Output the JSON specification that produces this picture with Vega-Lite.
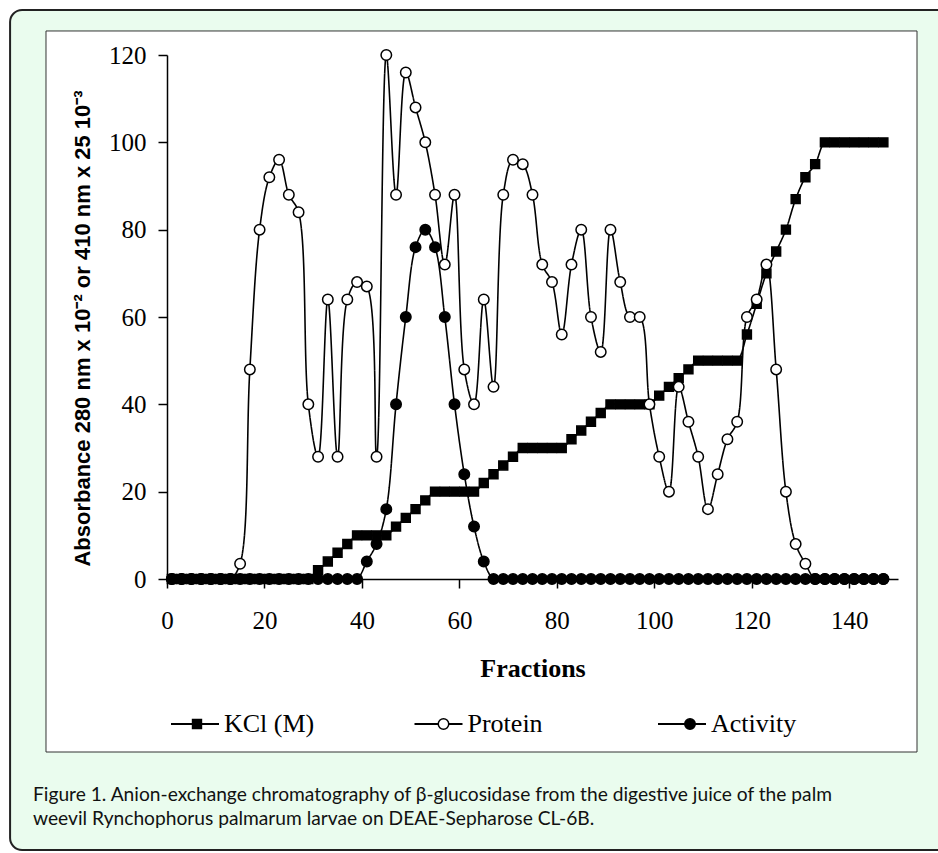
{
  "$schema": "https://vega.github.io/schema/vega-lite/v6.json",
  "width": 731,
  "height": 524,
  "autosize": {"type": "none"},
  "padding": {"left": 167, "top": 55, "right": 40, "bottom": 274},
  "background": "white",
  "title": {
    "text": ["Figure 1. Anion-exchange chromatography of β-glucosidase from the digestive juice of the palm", "weevil Rynchophorus palmarum larvae on DEAE-Sepharose CL-6B."],
    "orient": "bottom", "anchor": "start", "frame": "group", "dx": -134, "offset": -65,
    "font": "Lato", "fontSize": 19.2, "fontWeight": "normal", "color": "#111111", "lineHeight": 24, "baseline": "top"
  },
  "datasets": {
    "chroma": [
      {"series":"KCl (M)","fraction":1,"value":0},{"series":"KCl (M)","fraction":3,"value":0},{"series":"KCl (M)","fraction":5,"value":0},{"series":"KCl (M)","fraction":7,"value":0},{"series":"KCl (M)","fraction":9,"value":0},{"series":"KCl (M)","fraction":11,"value":0},{"series":"KCl (M)","fraction":13,"value":0},{"series":"KCl (M)","fraction":15,"value":0},{"series":"KCl (M)","fraction":17,"value":0},{"series":"KCl (M)","fraction":19,"value":0},{"series":"KCl (M)","fraction":21,"value":0},{"series":"KCl (M)","fraction":23,"value":0},{"series":"KCl (M)","fraction":25,"value":0},{"series":"KCl (M)","fraction":27,"value":0},{"series":"KCl (M)","fraction":29,"value":0},
      {"series":"KCl (M)","fraction":31,"value":2},{"series":"KCl (M)","fraction":33,"value":4},{"series":"KCl (M)","fraction":35,"value":6},{"series":"KCl (M)","fraction":37,"value":8},{"series":"KCl (M)","fraction":39,"value":10},{"series":"KCl (M)","fraction":41,"value":10},{"series":"KCl (M)","fraction":43,"value":10},{"series":"KCl (M)","fraction":45,"value":10},{"series":"KCl (M)","fraction":47,"value":12},{"series":"KCl (M)","fraction":49,"value":14},{"series":"KCl (M)","fraction":51,"value":16},{"series":"KCl (M)","fraction":53,"value":18},{"series":"KCl (M)","fraction":55,"value":20},{"series":"KCl (M)","fraction":57,"value":20},{"series":"KCl (M)","fraction":59,"value":20},{"series":"KCl (M)","fraction":61,"value":20},{"series":"KCl (M)","fraction":63,"value":20},{"series":"KCl (M)","fraction":65,"value":22},{"series":"KCl (M)","fraction":67,"value":24},{"series":"KCl (M)","fraction":69,"value":26},{"series":"KCl (M)","fraction":71,"value":28},{"series":"KCl (M)","fraction":73,"value":30},{"series":"KCl (M)","fraction":75,"value":30},{"series":"KCl (M)","fraction":77,"value":30},{"series":"KCl (M)","fraction":79,"value":30},{"series":"KCl (M)","fraction":81,"value":30},{"series":"KCl (M)","fraction":83,"value":32},{"series":"KCl (M)","fraction":85,"value":34},{"series":"KCl (M)","fraction":87,"value":36},{"series":"KCl (M)","fraction":89,"value":38},{"series":"KCl (M)","fraction":91,"value":40},{"series":"KCl (M)","fraction":93,"value":40},{"series":"KCl (M)","fraction":95,"value":40},{"series":"KCl (M)","fraction":97,"value":40},{"series":"KCl (M)","fraction":99,"value":40},{"series":"KCl (M)","fraction":101,"value":42},{"series":"KCl (M)","fraction":103,"value":44},{"series":"KCl (M)","fraction":105,"value":46},{"series":"KCl (M)","fraction":107,"value":48},{"series":"KCl (M)","fraction":109,"value":50},{"series":"KCl (M)","fraction":111,"value":50},{"series":"KCl (M)","fraction":113,"value":50},{"series":"KCl (M)","fraction":115,"value":50},{"series":"KCl (M)","fraction":117,"value":50},{"series":"KCl (M)","fraction":119,"value":56},{"series":"KCl (M)","fraction":121,"value":63},{"series":"KCl (M)","fraction":123,"value":70},{"series":"KCl (M)","fraction":125,"value":75},{"series":"KCl (M)","fraction":127,"value":80},{"series":"KCl (M)","fraction":129,"value":87},{"series":"KCl (M)","fraction":131,"value":92},{"series":"KCl (M)","fraction":133,"value":95},{"series":"KCl (M)","fraction":135,"value":100},{"series":"KCl (M)","fraction":137,"value":100},{"series":"KCl (M)","fraction":139,"value":100},{"series":"KCl (M)","fraction":141,"value":100},{"series":"KCl (M)","fraction":143,"value":100},{"series":"KCl (M)","fraction":145,"value":100},{"series":"KCl (M)","fraction":147,"value":100},
      {"series":"Protein","fraction":1,"value":0},{"series":"Protein","fraction":3,"value":0},{"series":"Protein","fraction":5,"value":0},{"series":"Protein","fraction":7,"value":0},{"series":"Protein","fraction":9,"value":0},{"series":"Protein","fraction":11,"value":0},{"series":"Protein","fraction":13,"value":0},
      {"series":"Protein","fraction":15,"value":3.5},{"series":"Protein","fraction":17,"value":48},{"series":"Protein","fraction":19,"value":80},{"series":"Protein","fraction":21,"value":92},{"series":"Protein","fraction":23,"value":96},{"series":"Protein","fraction":25,"value":88},{"series":"Protein","fraction":27,"value":84},{"series":"Protein","fraction":29,"value":40},{"series":"Protein","fraction":31,"value":28},{"series":"Protein","fraction":33,"value":64},{"series":"Protein","fraction":35,"value":28},{"series":"Protein","fraction":37,"value":64},{"series":"Protein","fraction":39,"value":68},{"series":"Protein","fraction":41,"value":67},{"series":"Protein","fraction":43,"value":28},{"series":"Protein","fraction":45,"value":120},{"series":"Protein","fraction":47,"value":88},{"series":"Protein","fraction":49,"value":116},{"series":"Protein","fraction":51,"value":108},{"series":"Protein","fraction":53,"value":100},{"series":"Protein","fraction":55,"value":88},{"series":"Protein","fraction":57,"value":72},{"series":"Protein","fraction":59,"value":88},{"series":"Protein","fraction":61,"value":48},{"series":"Protein","fraction":63,"value":40},{"series":"Protein","fraction":65,"value":64},{"series":"Protein","fraction":67,"value":44},{"series":"Protein","fraction":69,"value":88},{"series":"Protein","fraction":71,"value":96},{"series":"Protein","fraction":73,"value":95},{"series":"Protein","fraction":75,"value":88},{"series":"Protein","fraction":77,"value":72},{"series":"Protein","fraction":79,"value":68},{"series":"Protein","fraction":81,"value":56},{"series":"Protein","fraction":83,"value":72},{"series":"Protein","fraction":85,"value":80},{"series":"Protein","fraction":87,"value":60},{"series":"Protein","fraction":89,"value":52},{"series":"Protein","fraction":91,"value":80},{"series":"Protein","fraction":93,"value":68},{"series":"Protein","fraction":95,"value":60},{"series":"Protein","fraction":97,"value":60},{"series":"Protein","fraction":99,"value":40},{"series":"Protein","fraction":101,"value":28},{"series":"Protein","fraction":103,"value":20},{"series":"Protein","fraction":105,"value":44},{"series":"Protein","fraction":107,"value":36},{"series":"Protein","fraction":109,"value":28},{"series":"Protein","fraction":111,"value":16},{"series":"Protein","fraction":113,"value":24},{"series":"Protein","fraction":115,"value":32},{"series":"Protein","fraction":117,"value":36},{"series":"Protein","fraction":119,"value":60},{"series":"Protein","fraction":121,"value":64},{"series":"Protein","fraction":123,"value":72},{"series":"Protein","fraction":125,"value":48},{"series":"Protein","fraction":127,"value":20},{"series":"Protein","fraction":129,"value":8},{"series":"Protein","fraction":131,"value":3.5},
      {"series":"Protein","fraction":133,"value":0},{"series":"Protein","fraction":135,"value":0},{"series":"Protein","fraction":137,"value":0},{"series":"Protein","fraction":139,"value":0},{"series":"Protein","fraction":141,"value":0},{"series":"Protein","fraction":143,"value":0},{"series":"Protein","fraction":145,"value":0},{"series":"Protein","fraction":147,"value":0},
      {"series":"Activity","fraction":1,"value":0},{"series":"Activity","fraction":3,"value":0},{"series":"Activity","fraction":5,"value":0},{"series":"Activity","fraction":7,"value":0},{"series":"Activity","fraction":9,"value":0},{"series":"Activity","fraction":11,"value":0},{"series":"Activity","fraction":13,"value":0},{"series":"Activity","fraction":15,"value":0},{"series":"Activity","fraction":17,"value":0},{"series":"Activity","fraction":19,"value":0},{"series":"Activity","fraction":21,"value":0},{"series":"Activity","fraction":23,"value":0},{"series":"Activity","fraction":25,"value":0},{"series":"Activity","fraction":27,"value":0},{"series":"Activity","fraction":29,"value":0},{"series":"Activity","fraction":31,"value":0},{"series":"Activity","fraction":33,"value":0},{"series":"Activity","fraction":35,"value":0},{"series":"Activity","fraction":37,"value":0},{"series":"Activity","fraction":39,"value":0},
      {"series":"Activity","fraction":41,"value":4},{"series":"Activity","fraction":43,"value":8},{"series":"Activity","fraction":45,"value":16},{"series":"Activity","fraction":47,"value":40},{"series":"Activity","fraction":49,"value":60},{"series":"Activity","fraction":51,"value":76},{"series":"Activity","fraction":53,"value":80},{"series":"Activity","fraction":55,"value":76},{"series":"Activity","fraction":57,"value":60},{"series":"Activity","fraction":59,"value":40},{"series":"Activity","fraction":61,"value":24},{"series":"Activity","fraction":63,"value":12},{"series":"Activity","fraction":65,"value":4},
      {"series":"Activity","fraction":67,"value":0},{"series":"Activity","fraction":69,"value":0},{"series":"Activity","fraction":71,"value":0},{"series":"Activity","fraction":73,"value":0},{"series":"Activity","fraction":75,"value":0},{"series":"Activity","fraction":77,"value":0},{"series":"Activity","fraction":79,"value":0},{"series":"Activity","fraction":81,"value":0},{"series":"Activity","fraction":83,"value":0},{"series":"Activity","fraction":85,"value":0},{"series":"Activity","fraction":87,"value":0},{"series":"Activity","fraction":89,"value":0},{"series":"Activity","fraction":91,"value":0},{"series":"Activity","fraction":93,"value":0},{"series":"Activity","fraction":95,"value":0},{"series":"Activity","fraction":97,"value":0},{"series":"Activity","fraction":99,"value":0},{"series":"Activity","fraction":101,"value":0},{"series":"Activity","fraction":103,"value":0},{"series":"Activity","fraction":105,"value":0},{"series":"Activity","fraction":107,"value":0},{"series":"Activity","fraction":109,"value":0},{"series":"Activity","fraction":111,"value":0},{"series":"Activity","fraction":113,"value":0},{"series":"Activity","fraction":115,"value":0},{"series":"Activity","fraction":117,"value":0},{"series":"Activity","fraction":119,"value":0},{"series":"Activity","fraction":121,"value":0},{"series":"Activity","fraction":123,"value":0},{"series":"Activity","fraction":125,"value":0},{"series":"Activity","fraction":127,"value":0},{"series":"Activity","fraction":129,"value":0},{"series":"Activity","fraction":131,"value":0},{"series":"Activity","fraction":133,"value":0},{"series":"Activity","fraction":135,"value":0},{"series":"Activity","fraction":137,"value":0},{"series":"Activity","fraction":139,"value":0},{"series":"Activity","fraction":141,"value":0},{"series":"Activity","fraction":143,"value":0},{"series":"Activity","fraction":145,"value":0},{"series":"Activity","fraction":147,"value":0}
    ]
  },
  "layer": [
    {
      "data": {"values": [{}]},
      "mark": {"type": "rect", "fill": "#eafcee", "stroke": "#222222", "strokeWidth": 2, "cornerRadius": 12},
      "encoding": {
        "x": {"datum": -32.2, "type": "quantitative", "scale": {"domain": [0, 150], "nice": false}},
        "x2": {"datum": 161},
        "y": {"datum": 130.3, "type": "quantitative", "scale": {"domain": [0, 120], "nice": false}},
        "y2": {"datum": -62.06}
      }
    },
    {
      "data": {"values": [{}]},
      "mark": {"type": "rect", "fill": "white", "stroke": "#333333", "strokeWidth": 1},
      "encoding": {
        "x": {"datum": -24.83, "type": "quantitative", "scale": {"domain": [0, 150], "nice": false}},
        "x2": {"datum": 153.9},
        "y": {"datum": 125.5, "type": "quantitative", "scale": {"domain": [0, 120], "nice": false}},
        "y2": {"datum": -39.62}
      }
    },
    {
      "data": {"name": "chroma"},
      "mark": {"type": "line", "interpolate": "catmull-rom", "color": "black", "strokeWidth": 1.6},
      "encoding": {
        "x": {"field": "fraction", "type": "quantitative", "scale": {"domain": [0, 150], "nice": false},
          "axis": {"title": "Fractions", "values": [0, 20, 40, 60, 80, 100, 120, 140], "grid": false, "labelPadding": 20, "titlePadding": 22, "zindex": 2,
            "titleFont": "Liberation Serif", "titleFontSize": 26, "titleFontWeight": "bold"}},
        "y": {"field": "value", "type": "quantitative", "scale": {"domain": [0, 120], "nice": false},
          "axis": {"title": "Absorbance 280 nm x 10⁻² or 410 nm x 25 10⁻³", "values": [0, 20, 40, 60, 80, 100, 120], "grid": false, "labelPadding": 12, "titlePadding": 14, "titleY": 273, "zindex": 2,
            "titleFont": "Liberation Sans", "titleFontSize": 22, "titleFontWeight": "bold"}},
        "detail": {"field": "series"},
        "strokeDash": {"field": "series", "type": "nominal", "sort": ["KCl (M)", "Protein", "Activity"], "scale": {"range": [[1, 0], [1, 0], [1, 0]]},
          "legend": {"title": null, "orient": "none", "legendX": 3, "legendY": 644, "direction": "horizontal", "padding": 0, "zindex": 2, "gridAlign": "all",
            "symbolType": "M-1,0H1", "symbolSize": 2304, "symbolStrokeColor": "black", "symbolStrokeWidth": 1.8, "symbolFillColor": "transparent",
            "labelFont": "Liberation Serif", "labelFontSize": 26, "labelColor": "black", "labelOffset": 4, "columnPadding": 95.5, "labelLimit": 300}}
      }
    },
    {
      "data": {"name": "chroma"},
      "mark": {"type": "point", "filled": true, "strokeWidth": 1.5, "opacity": 1, "fillOpacity": 1, "size": 110},
      "encoding": {
        "x": {"field": "fraction", "type": "quantitative", "scale": {"domain": [0, 150], "nice": false}},
        "y": {"field": "value", "type": "quantitative", "scale": {"domain": [0, 120], "nice": false}},
        "fill": {"field": "series", "type": "nominal", "scale": {"domain": ["KCl (M)", "Protein", "Activity"], "range": ["black", "white", "black"]}},
        "stroke": {"field": "series", "type": "nominal", "scale": {"domain": ["KCl (M)", "Protein", "Activity"], "range": ["black", "black", "black"]}},
        "shape": {"field": "series", "type": "nominal", "scale": {"domain": ["KCl (M)", "Protein", "Activity"], "range": ["M-0.85,-0.85H0.85V0.85H-0.85Z", "circle", "circle"]},
          "legend": {"title": null, "orient": "none", "legendX": 3, "legendY": 656, "direction": "horizontal", "padding": 0, "zindex": 3, "gridAlign": "all",
            "symbolSize": 110, "symbolStrokeWidth": 1.5, "symbolOffset": 14,
            "labelExpr": "''", "labelFontSize": 26, "labelOffset": 0, "columnPadding": 206.5}}
      }
    }
  ],
  "config": {
    "view": {"stroke": null},
    "axis": {
      "domainColor": "black", "domainWidth": 1.5, "tickColor": "black", "tickWidth": 1.5, "tickSize": 9,
      "labelFont": "Liberation Serif", "labelFontSize": 25, "labelColor": "black", "titleColor": "black", "labelFlush": false, "labelOverlap": false
    }
  }
}
